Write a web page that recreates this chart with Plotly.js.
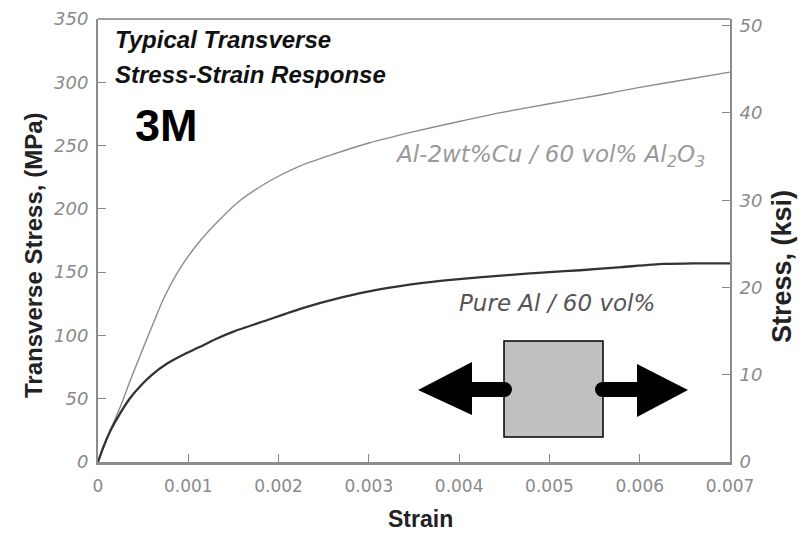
<!DOCTYPE html>
<html><head><meta charset="utf-8">
<script src="https://cdn.plot.ly/plotly-3.0.1.min.js"></script>
<style>body{margin:0;background:#fff}#chart{width:804px;height:534px}</style>
</head><body><div id="chart"></div><script>
// Al-2wt%Cu / 60 vol% Al2O3 (upper curve)
const strainCu = [0, 0.00013, 0.00025, 0.00036, 0.0005, 0.00062, 0.00072, 0.0009, 0.0011, 0.0013, 0.00158, 0.0019, 0.00224, 0.0026, 0.003, 0.0035, 0.004, 0.00446, 0.005, 0.00556, 0.006, 0.0065, 0.007];
const stressCu = [0, 24, 44, 65, 90, 111, 128, 152, 172, 188, 207, 222, 234, 243, 252, 261, 269, 276, 283, 290, 296, 302, 308];
// Pure Al / 60 vol% (lower curve)
const strainAl = [0, 0.00006, 0.00014, 0.00025, 0.00035, 0.00047, 0.0006, 0.00077, 0.00095, 0.00113, 0.0013, 0.0015, 0.00187, 0.00224, 0.0027, 0.00313, 0.0036, 0.004, 0.0045, 0.005, 0.00534, 0.0058, 0.00626, 0.0066, 0.007];
const stressAl = [0, 12, 25, 39, 50, 60, 69, 78, 85, 91, 97, 103, 112, 121, 130, 136.5, 141.5, 144.5, 147.5, 150, 151.5, 154, 156.5, 157, 157];
// ticks
const xTickVals = [0, 0.001, 0.002, 0.003, 0.004, 0.005, 0.006, 0.007];
const xTickText = ['0', '0.001', '0.002', '0.003', '0.004', '0.005', '0.006', '0.007'];
const MPA_PER_KSI = 6.89476;
const yMax = 350;

const W = 804, H = 534, ML = 98, MR = 74, MT = 19, MB = 72;
const PW = W - ML - MR, PH = H - MT - MB;
const px = x => (x - ML) / PW;
const py = y => (H - MB - y) / PH;
const dx = x => (x - ML) / PW * 0.007;
const dy = y => (H - MB - y) / PH * yMax;

const tickFontY = {family: 'DejaVu Sans', size: 18, color: '#8a8a8a', style: 'italic'};
const tickFontX = {family: 'DejaVu Sans', size: 17, color: '#8a8a8a'};

const traces = [
  {x: strainCu, y: stressCu, mode: 'lines', line: {color: '#8c8c8c', width: 1.4, shape: 'spline', smoothing: 0.6}, hoverinfo: 'skip', showlegend: false},
  {x: strainAl, y: stressAl, mode: 'lines', line: {color: '#333333', width: 2.3, shape: 'spline', smoothing: 0.6}, hoverinfo: 'skip', showlegend: false},
  {x: [0], y: [0], yaxis: 'y2', mode: 'lines', line: {width: 0}, hoverinfo: 'skip', showlegend: false}
];

// tension block decoration
const cy = dy(389.5), hs = yMax * 7.5 / PH, rx = 0.007 * 7.5 / PW;
const shapes = [
  {type: 'line', xref: 'paper', yref: 'paper', x0: 0, x1: 1, y0: 1, y1: 1, line: {color: '#a0a0a0', width: 2}},
  {type: 'rect', xref: 'x', yref: 'y', x0: dx(504), x1: dx(603), y0: dy(437), y1: dy(341), fillcolor: '#c0c0c0', line: {color: '#000', width: 1.5}},
  {type: 'path', xref: 'x', yref: 'y', path: `M ${dx(418)},${dy(390)} L ${dx(472)},${dy(362)} L ${dx(472)},${dy(415)} Z`, fillcolor: '#000', line: {color: '#000', width: 0}},
  {type: 'rect', xref: 'x', yref: 'y', x0: dx(470), x1: dx(504.5), y0: cy - hs, y1: cy + hs, fillcolor: '#000', line: {width: 0}},
  {type: 'circle', xref: 'x', yref: 'y', x0: dx(504.5) - rx, x1: dx(504.5) + rx, y0: cy - hs, y1: cy + hs, fillcolor: '#000', line: {width: 0}},
  {type: 'rect', xref: 'x', yref: 'y', x0: dx(602.5), x1: dx(639), y0: cy - hs, y1: cy + hs, fillcolor: '#000', line: {width: 0}},
  {type: 'circle', xref: 'x', yref: 'y', x0: dx(602.5) - rx, x1: dx(602.5) + rx, y0: cy - hs, y1: cy + hs, fillcolor: '#000', line: {width: 0}},
  {type: 'path', xref: 'x', yref: 'y', path: `M ${dx(688)},${dy(390)} L ${dx(637)},${dy(364)} L ${dx(637)},${dy(417)} Z`, fillcolor: '#000', line: {color: '#000', width: 0}}
];

const ann = (text, x, y, opts) => Object.assign({text, xref: 'paper', yref: 'paper', x: px(x), y: py(y), showarrow: false, xanchor: 'left', yanchor: 'middle'}, opts);
const annotations = [
  ann('Typical Transverse', 113, 40, {font: {family: 'Liberation Sans', size: 24, color: '#111', weight: 'bold', style: 'italic'}}),
  ann('Stress-Strain Response', 113, 74, {font: {family: 'Liberation Sans', size: 24, color: '#111', weight: 'bold', style: 'italic'}}),
  ann('3M', 166, 126, {xanchor: 'center', font: {family: 'Liberation Sans', size: 45, color: '#000', weight: 'bold'}}),
  ann('Al-2wt%Cu / 60 vol% Al<sub>2</sub>O<sub>3</sub>', 393, 156, {font: {family: 'DejaVu Sans', size: 23, color: '#9a9a9a', style: 'italic'}}),
  ann('Pure Al / 60 vol%', 457, 303, {font: {family: 'DejaVu Sans', size: 23, color: '#555', style: 'italic'}}),
  ann('Transverse Stress, (MPa)', 33, 256, {xanchor: 'center', textangle: -90, font: {family: 'Liberation Sans', size: 24, color: '#222', weight: 'bold'}}),
  ann('Stress, (ksi)', 782, 267, {xanchor: 'center', textangle: -90, font: {family: 'Liberation Sans', size: 27, color: '#222', weight: 'bold'}}),
  ann('Strain', 421, 519, {xanchor: 'center', font: {family: 'Liberation Sans', size: 23, color: '#222', weight: 'bold'}})
];

const layout = {
  width: W, height: H,
  margin: {l: ML, r: MR, t: MT, b: MB, pad: 0},
  paper_bgcolor: '#fff', plot_bgcolor: '#fff',
  showlegend: false,
  xaxis: {range: [0, 0.007], tickvals: xTickVals, ticktext: xTickText, ticks: 'inside', ticklen: 8, tickcolor: '#888', tickwidth: 1,
          showline: true, linecolor: '#8c8c8c', linewidth: 3, showgrid: false, zeroline: false, tickfont: tickFontX, ticklabelstandoff: 7},
  yaxis: {range: [0, yMax], dtick: 50, ticks: 'inside', ticklen: 8, tickcolor: '#888', tickwidth: 1,
          showline: true, linecolor: '#8c8c8c', linewidth: 2, showgrid: false, zeroline: false, tickfont: tickFontY, ticklabelstandoff: 4},
  yaxis2: {overlaying: 'y', side: 'right', range: [0, yMax / MPA_PER_KSI], dtick: 10, ticks: 'inside', ticklen: 8, tickcolor: '#888', tickwidth: 1,
          showline: true, linecolor: '#8c8c8c', linewidth: 2, showgrid: false, zeroline: false, tickfont: tickFontY, ticklabelstandoff: 4},
  shapes, annotations
};

Plotly.newPlot('chart', traces, layout, {displayModeBar: false, staticPlot: true});
</script></body></html>
